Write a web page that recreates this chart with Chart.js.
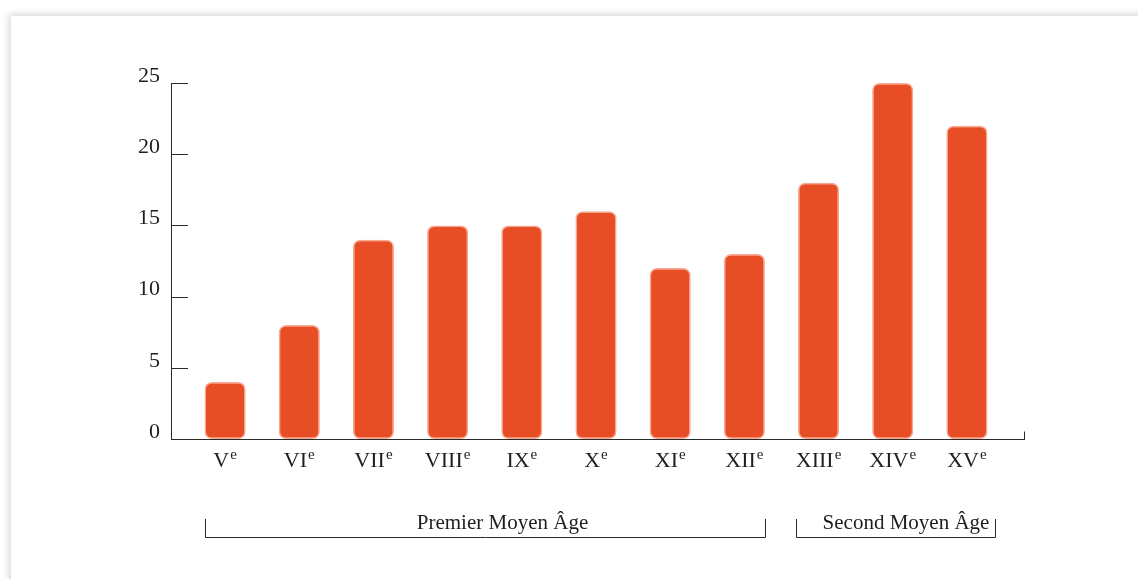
<!DOCTYPE html>
<html>
<head>
<meta charset="utf-8">
<script src="https://cdn.jsdelivr.net/npm/chart.js@4"></script>
<style>
  html, body { margin: 0; padding: 0; background: #ffffff; width: 1138px; height: 579px; overflow: hidden; }
  #card { position: absolute; left: 11px; top: 16px; width: 1140px; height: 600px; background: #fff;
          box-shadow: 0 0 7px 2px rgba(0,0,0,0.16); }
  #c { position: absolute; left: 0; top: 0; }
</style>
</head>
<body>
<div id="card"></div>
<canvas id="c" width="1138" height="579"></canvas>
<script>
const categories = ['V', 'VI', 'VII', 'VIII', 'IX', 'X', 'XI', 'XII', 'XIII', 'XIV', 'XV'];
const suffix = 'e';
const values = [4, 8, 14, 15, 15, 16, 12, 13, 18, 25, 22];
const yTicks = [0, 5, 10, 15, 20, 25];
const groups = [
  { label: 'Premier Moyen Âge', from: 0, to: 7 },
  { label: 'Second Moyen Âge', from: 8, to: 10 }
];

const SERIF = "'Liberation Serif', 'DejaVu Serif', serif";
const TEXT = '#1e1e1e';
const LINE = '#2a2a2a';

const decor = {
  id: 'decor',
  beforeDatasetsDraw(chart) {
    const ctx = chart.ctx;
    const ca = chart.chartArea;
    const y = chart.scales.y;
    const ax = ca.left - 17;
    ctx.save();
    ctx.strokeStyle = LINE;
    ctx.lineWidth = 1;
    ctx.beginPath();
    ctx.moveTo(ax + 0.5, y.getPixelForValue(25));
    ctx.lineTo(ax + 0.5, y.getPixelForValue(0) + 0.5);
    yTicks.forEach(v => {
      const py = Math.round(y.getPixelForValue(v)) + 0.5;
      ctx.moveTo(ax, py);
      ctx.lineTo(ca.left, py);
    });
    const by = Math.round(y.getPixelForValue(0)) + 0.5;
    ctx.moveTo(ax, by);
    ctx.lineTo(ca.right + 21, by);
    ctx.moveTo(ca.right + 21 - 0.5, by);
    ctx.lineTo(ca.right + 21 - 0.5, by - 8);
    ctx.stroke();
    ctx.restore();
  },
  afterDraw(chart) {
    const ctx = chart.ctx;
    const x = chart.scales.x;
    const meta = chart.getDatasetMeta(0);
    ctx.save();
    ctx.fillStyle = TEXT;
    ctx.textBaseline = 'alphabetic';
    ctx.textAlign = 'left';
    categories.forEach((c, i) => {
      const cx = x.getPixelForValue(i);
      ctx.font = "22px " + SERIF;
      const w1 = ctx.measureText(c).width;
      ctx.font = "15px " + SERIF;
      const w2 = ctx.measureText(suffix).width;
      const sx = cx - (w1 + w2 + 1) / 2;
      ctx.font = "22px " + SERIF;
      ctx.fillText(c, sx, 467);
      ctx.font = "15px " + SERIF;
      ctx.fillText(suffix, sx + w1 + 1, 459);
    });
    // group brackets
    ctx.strokeStyle = LINE;
    ctx.lineWidth = 1;
    groups.forEach((g, gi) => {
      const b0 = meta.data[g.from], b1 = meta.data[g.to];
      let l = Math.round(b0.x - b0.width / 2) + 0.5;
      let r = Math.round(b1.x + b1.width / 2) + 0.5;
      if (gi === 1) { l -= 2; r += 8; }
      ctx.beginPath();
      ctx.moveTo(l, 519);
      ctx.lineTo(l, 537.5);
      ctx.lineTo(r, 537.5);
      ctx.lineTo(r, 519);
      ctx.stroke();
      ctx.font = "21px " + SERIF;
      ctx.textAlign = 'center';
      ctx.fillText(g.label, (l + r) / 2 + (gi === 0 ? 17 : 10), 529);
    });
    ctx.restore();
  }
};

new Chart(document.getElementById('c'), {
  type: 'bar',
  data: {
    labels: categories.map(c => c + suffix),
    datasets: [{
      data: values,
      backgroundColor: '#E84E25',
      borderColor: 'rgba(246,140,110,0.75)',
      borderWidth: 1.5,
      borderSkipped: false,
      borderRadius: 7,
      barPercentage: 0.555,
      categoryPercentage: 1.0
    }]
  },
  options: {
    responsive: false,
    animation: false,
    devicePixelRatio: 1,
    layout: { padding: { left: 0, right: 134, top: 83, bottom: 0 } },
    plugins: { legend: { display: false }, tooltip: { enabled: false } },
    scales: {
      x: {
        grid: { display: false, drawTicks: false },
        border: { display: false },
        ticks: { display: false },
        afterFit(s) { s.height = 140; }
      },
      y: {
        min: 0, max: 25,
        grid: { display: false, drawTicks: false },
        border: { display: false },
        afterFit(s) { s.width = 188; },
        ticks: {
          stepSize: 5,
          padding: 28,
          labelOffset: -7,
          color: TEXT,
          font: { family: SERIF, size: 22 }
        }
      }
    }
  },
  plugins: [decor]
});
</script>
</body>
</html>
